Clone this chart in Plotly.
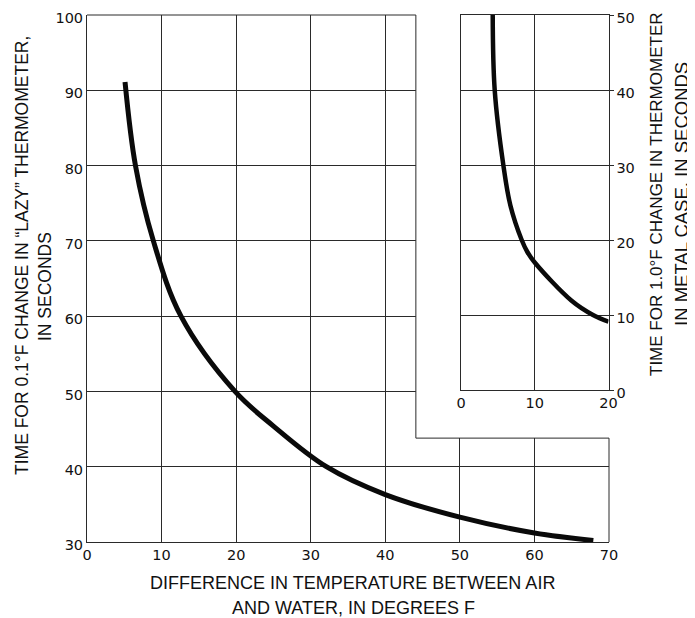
import plotly.graph_objects as go

# ---- data ----
main_x = [5.1, 6.5, 8.9, 12.6, 19.85, 25.0, 32.1, 40.0, 50.0, 60.0, 67.9]
main_y = [91.1, 80.0, 70.0, 60.0, 50.0, 45.4, 40.0, 36.3, 33.3, 31.2, 30.2]

inset_x = [4.3, 4.57, 5.74, 6.7, 8.23, 9.0, 10.0, 15.0, 17.9, 20.0]
inset_y = [50.0, 40.0, 30.0, 24.6, 20.0, 18.4, 17.0, 11.9, 10.0, 9.1]

main_xticks = [0, 10, 20, 30, 40, 50, 60, 70]
main_yticks = [30, 40, 50, 60, 70, 80, 90, 100]
inset_xticks = [0, 10, 20]
inset_yticks = [0, 10, 20, 30, 40, 50]

# notch in the main grid where the inset sits (data units of main axes)
CUT_X = 44.1
CUT_Y = 43.8

W, H = 695, 618
OFF = 8  # page body margin of the browser
def px(x):
    return (x - OFF) / W
def py(y):
    return 1 - (y - OFF) / H

GRID = "#2a2a2a"
TICKFONT = dict(family="DejaVu Sans, sans-serif", size=14.5, color="#111")

fig = go.Figure()
fig.add_trace(go.Scatter(x=main_x, y=main_y, mode="lines",
                         line=dict(color="#0a0a0a", width=5, shape="spline", smoothing=1.0),
                         xaxis="x", yaxis="y", showlegend=False, hoverinfo="skip"))
fig.add_trace(go.Scatter(x=inset_x, y=inset_y, mode="lines",
                         line=dict(color="#0a0a0a", width=4.5, shape="spline", smoothing=1.0),
                         xaxis="x2", yaxis="y2", showlegend=False, hoverinfo="skip"))

common = dict(showgrid=True, gridcolor=GRID, gridwidth=1, showline=True,
              linecolor=GRID, linewidth=1, zeroline=False, tickfont=TICKFONT,
              automargin=False, ticklabeloverflow="allow")

fig.update_layout(
    width=W, height=H,
    margin=dict(l=0, r=0, t=0, b=0, autoexpand=False),
    paper_bgcolor="white", plot_bgcolor="white",
    showlegend=False,
    xaxis=dict(domain=[px(87), px(609)], range=[0, 70], tickvals=main_xticks,
               ticks="", anchor="y", **common),
    yaxis=dict(domain=[py(542), py(15)], range=[30, 100], tickvals=main_yticks,
               ticks="", anchor="x", ticklabelshift=3, **common),
    xaxis2=dict(domain=[px(461), px(608.5)], range=[0, 20], tickvals=inset_xticks,
                ticks="", mirror=True, anchor="y2", **common),
    yaxis2=dict(domain=[py(390), py(15)], range=[0, 50], tickvals=inset_yticks,
                side="right", ticks="outside", ticklen=4, tickcolor=GRID,
                mirror=True, anchor="x2", ticklabelshift=3, **common),
)

# blank out main grid in the notch (between grid and traces)
fig.add_shape(type="rect", xref="x", yref="y", x0=CUT_X, x1=70, y0=CUT_Y, y1=100,
              fillcolor="white", line_width=0, layer="between")
# partial frame of the main plot
line = dict(color=GRID, width=1)
fig.add_shape(type="line", xref="x", yref="y domain", x0=0, x1=CUT_X, y0=1, y1=1, line=line)
fig.add_shape(type="line", xref="x", yref="y", x0=CUT_X, x1=CUT_X, y0=CUT_Y, y1=100, line=line)
fig.add_shape(type="line", xref="x", yref="y", x0=CUT_X, x1=70, y0=CUT_Y, y1=CUT_Y, line=line)
fig.add_shape(type="line", xref="x domain", yref="y", x0=1, x1=1, y0=30, y1=CUT_Y, line=line)

TITLEFONT = dict(family="Liberation Sans, Arial, sans-serif", size=18, color="#111")
ROT_L = dict(family="Liberation Sans, Arial, sans-serif", size=17.5, color="#111")
ROT_R1 = dict(family="Liberation Sans, Arial, sans-serif", size=17, color="#111")
ROT_R2 = dict(family="Liberation Sans, Arial, sans-serif", size=18.5, color="#111")

def label(text, x, y, font, angle=0):
    fig.add_annotation(text=text, xref="paper", yref="paper", x=px(x), y=py(y),
                       xanchor="center", yanchor="middle", textangle=angle,
                       showarrow=False, font=font)

label("DIFFERENCE IN TEMPERATURE BETWEEN AIR", 352, 583, TITLEFONT)
label("AND WATER, IN DEGREES F", 353, 608, TITLEFONT)
label("TIME FOR 0.1°F CHANGE IN \u201cLAZY\u201d THERMOMETER,", 22, 256, ROT_L, -90)
label("IN SECONDS", 45, 287, ROT_L, -90)
label("TIME FOR 1.0°F CHANGE IN THERMOMETER", 656, 194, ROT_R1, -90)
label("IN METAL CASE, IN SECONDS", 681, 194, ROT_R2, -90)

fig.write_html("out.html")
